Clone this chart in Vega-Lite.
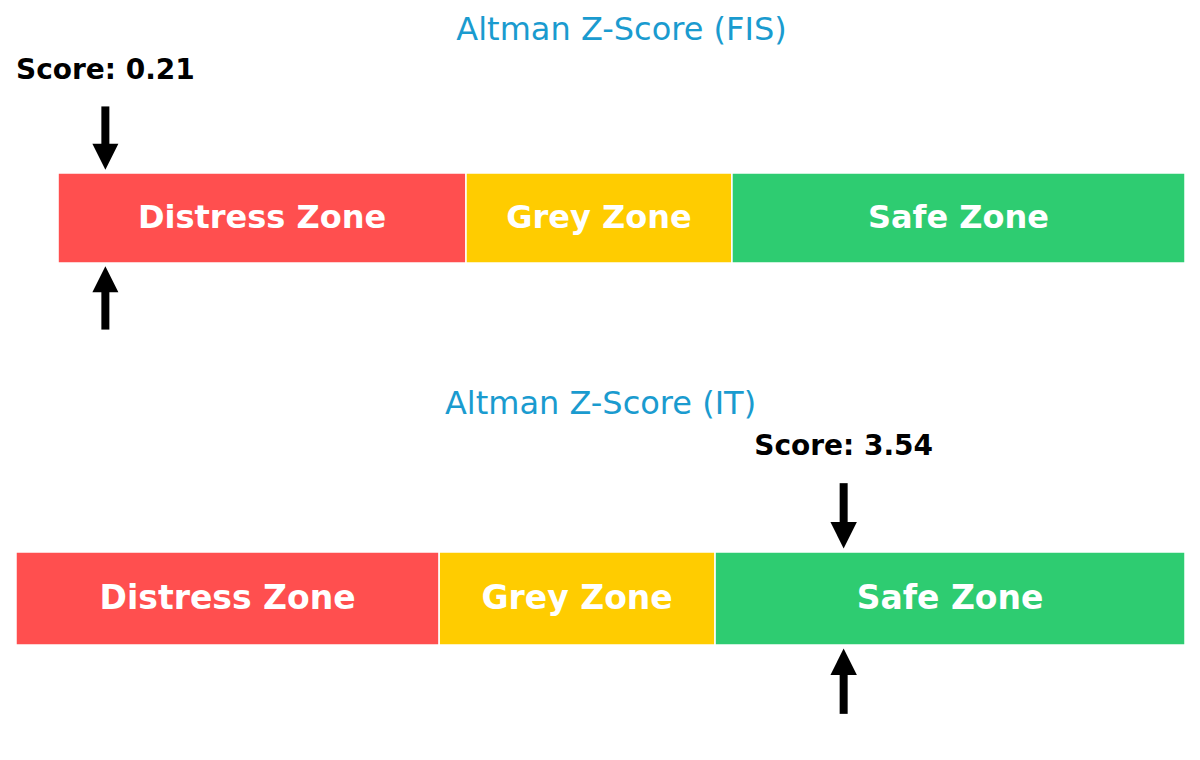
{
  "$schema": "https://vega.github.io/schema/vega-lite/v6.json",
  "padding": {"left": 15, "top": 14, "right": 15, "bottom": 5},
  "background": "white",
  "config": {
    "view": {"stroke": null},
    "font": "DejaVu Sans",
    "title": {"fontSize": 32, "fontWeight": "normal", "color": "#1a9bcf", "font": "DejaVu Sans", "baseline": "alphabetic", "anchor": "middle"}
  },
  "datasets": {
    "zones": [
      {"zone": "Distress Zone", "lower": 0, "upper": 1.81, "mid": 0.905},
      {"zone": "Grey Zone", "lower": 1.81, "upper": 2.99, "mid": 2.4},
      {"zone": "Safe Zone", "lower": 2.99, "upper": 5, "mid": 3.995}
    ],
    "scores": [
      {"company": "FIS", "score": 0.21},
      {"company": "IT", "score": 3.54}
    ]
  },
  "spacing": 47,
  "resolve": {"scale": {"x": "independent", "y": "independent"}},
  "vconcat": [
    {
      "width": 1169,
      "height": 290,
      "title": {"text": "Altman Z-Score (FIS)", "dx": 21, "offset": 4},
      "layer": [
        {
          "data": {"name": "zones"},
          "mark": {"type": "rect", "stroke": "white", "strokeWidth": 1.5},
          "encoding": {
            "x": {"field": "lower", "type": "quantitative", "scale": {"domain": [-0.1865, 5], "nice": false, "zero": false}, "axis": null},
            "x2": {"field": "upper"},
            "y": {"datum": 0, "type": "quantitative", "scale": {"domain": [-0.867, 2.356], "nice": false, "zero": false}, "axis": null},
            "y2": {"datum": 1},
            "color": {"field": "zone", "type": "nominal", "legend": null,
              "scale": {"domain": ["Distress Zone", "Grey Zone", "Safe Zone"], "range": ["#ff4f4f", "#ffcc00", "#2ecc71"]}}
          }
        },
        {
          "data": {"name": "zones"},
          "mark": {"type": "text", "fontSize": 32, "fontWeight": "bold", "color": "white", "baseline": "middle"},
          "encoding": {
            "x": {"field": "mid", "type": "quantitative"},
            "y": {"datum": 0.5, "type": "quantitative"},
            "text": {"field": "zone"}
          }
        },
        {
          "data": {"name": "scores"},
          "transform": [{"filter": "datum.company === 'FIS'"}],
          "mark": {"type": "rule", "strokeWidth": 8, "color": "black"},
          "encoding": {
            "x": {"field": "score", "type": "quantitative"},
            "y": {"datum": 1.74, "type": "quantitative"},
            "y2": {"datum": 1.18}
          }
        },
        {
          "data": {"name": "scores"},
          "transform": [{"filter": "datum.company === 'FIS'"}],
          "mark": {"type": "point", "shape": "M-1,-1L1,-1L0,1Z", "size": 676, "filled": true, "color": "black", "opacity": 1},
          "encoding": {
            "x": {"field": "score", "type": "quantitative"},
            "y": {"datum": 1.18, "type": "quantitative"}
          }
        },
        {
          "data": {"name": "scores"},
          "transform": [{"filter": "datum.company === 'FIS'"}],
          "mark": {"type": "rule", "strokeWidth": 8, "color": "black"},
          "encoding": {
            "x": {"field": "score", "type": "quantitative"},
            "y": {"datum": -0.74, "type": "quantitative"},
            "y2": {"datum": -0.18}
          }
        },
        {
          "data": {"name": "scores"},
          "transform": [{"filter": "datum.company === 'FIS'"}],
          "mark": {"type": "point", "shape": "M0,-1L1,1L-1,1Z", "size": 676, "filled": true, "color": "black", "opacity": 1},
          "encoding": {
            "x": {"field": "score", "type": "quantitative"},
            "y": {"datum": -0.18, "type": "quantitative"}
          }
        },
        {
          "data": {"name": "scores"},
          "transform": [
            {"filter": "datum.company === 'FIS'"},
            {"calculate": "'Score: ' + format(datum.score, '.2f')", "as": "label"}
          ],
          "mark": {"type": "text", "fontSize": 28, "fontWeight": "bold", "color": "black", "baseline": "alphabetic"},
          "encoding": {
            "x": {"field": "score", "type": "quantitative"},
            "y": {"datum": 2.04, "type": "quantitative"},
            "text": {"field": "label"}
          }
        }
      ]
    },
    {
      "width": 1169,
      "height": 296,
      "title": {"text": "Altman Z-Score (IT)", "offset": 3},
      "layer": [
        {
          "data": {"name": "zones"},
          "mark": {"type": "rect", "stroke": "white", "strokeWidth": 1.5},
          "encoding": {
            "x": {"field": "lower", "type": "quantitative", "scale": {"domain": [0, 5], "nice": false, "zero": false}, "axis": null},
            "x2": {"field": "upper"},
            "y": {"datum": 0, "type": "quantitative", "scale": {"domain": [-0.806, 2.376], "nice": false, "zero": false}, "axis": null},
            "y2": {"datum": 1},
            "color": {"field": "zone", "type": "nominal", "legend": null,
              "scale": {"domain": ["Distress Zone", "Grey Zone", "Safe Zone"], "range": ["#ff4f4f", "#ffcc00", "#2ecc71"]}}
          }
        },
        {
          "data": {"name": "zones"},
          "mark": {"type": "text", "fontSize": 33, "fontWeight": "bold", "color": "white", "baseline": "middle"},
          "encoding": {
            "x": {"field": "mid", "type": "quantitative"},
            "y": {"datum": 0.5, "type": "quantitative"},
            "text": {"field": "zone"}
          }
        },
        {
          "data": {"name": "scores"},
          "transform": [{"filter": "datum.company === 'IT'"}],
          "mark": {"type": "rule", "strokeWidth": 8, "color": "black"},
          "encoding": {
            "x": {"field": "score", "type": "quantitative"},
            "y": {"datum": 1.74, "type": "quantitative"},
            "y2": {"datum": 1.18}
          }
        },
        {
          "data": {"name": "scores"},
          "transform": [{"filter": "datum.company === 'IT'"}],
          "mark": {"type": "point", "shape": "M-1,-1L1,-1L0,1Z", "size": 700, "filled": true, "color": "black", "opacity": 1},
          "encoding": {
            "x": {"field": "score", "type": "quantitative"},
            "y": {"datum": 1.18, "type": "quantitative"}
          }
        },
        {
          "data": {"name": "scores"},
          "transform": [{"filter": "datum.company === 'IT'"}],
          "mark": {"type": "rule", "strokeWidth": 8, "color": "black"},
          "encoding": {
            "x": {"field": "score", "type": "quantitative"},
            "y": {"datum": -0.74, "type": "quantitative"},
            "y2": {"datum": -0.18}
          }
        },
        {
          "data": {"name": "scores"},
          "transform": [{"filter": "datum.company === 'IT'"}],
          "mark": {"type": "point", "shape": "M0,-1L1,1L-1,1Z", "size": 700, "filled": true, "color": "black", "opacity": 1},
          "encoding": {
            "x": {"field": "score", "type": "quantitative"},
            "y": {"datum": -0.18, "type": "quantitative"}
          }
        },
        {
          "data": {"name": "scores"},
          "transform": [
            {"filter": "datum.company === 'IT'"},
            {"calculate": "'Score: ' + format(datum.score, '.2f')", "as": "label"}
          ],
          "mark": {"type": "text", "fontSize": 28, "fontWeight": "bold", "color": "black", "baseline": "alphabetic"},
          "encoding": {
            "x": {"field": "score", "type": "quantitative"},
            "y": {"datum": 2.04, "type": "quantitative"},
            "text": {"field": "label"}
          }
        }
      ]
    }
  ]
}
